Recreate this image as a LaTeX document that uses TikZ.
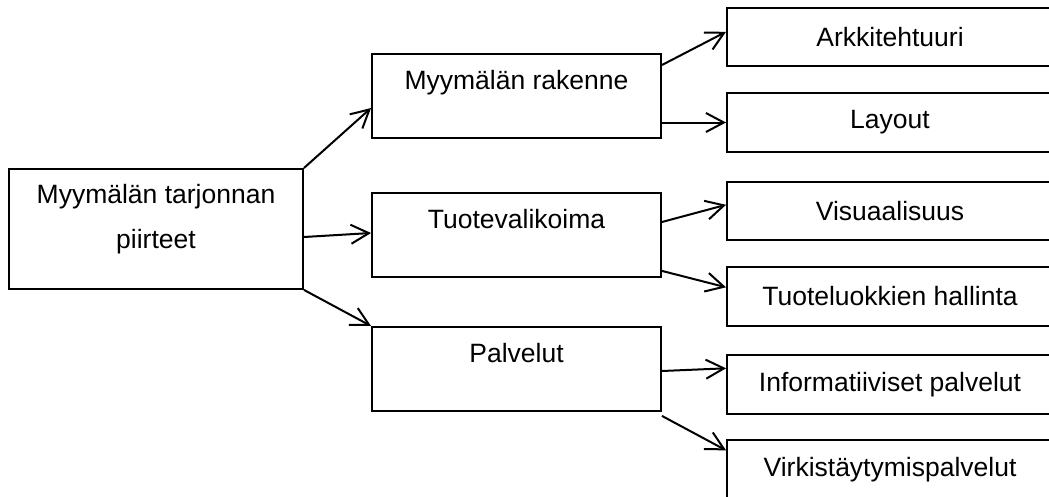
\documentclass[tikz,border=0pt]{standalone}
\usepackage{fontspec}
\setmainfont{Liberation Sans}
\usetikzlibrary{arrows.meta}

\begin{document}
\begin{tikzpicture}[x=1pt, y=-1pt,
    every node/.style={font=\fontsize{26.5}{45}\selectfont},
    box/.style={draw, line width=1.9pt, rectangle, inner xsep=0pt, inner ysep=0pt},
    rootbox/.style={box, minimum width=294pt, text height=35pt, text depth=85pt, anchor=north},
    midbox/.style={box, minimum width=289pt, text height=35.5pt, text depth=48.5pt, anchor=north},
    leafbox/.style={box, minimum width=326pt, minimum height=58.5pt},
    link/.style={line width=2pt, -{Straight Barb[length=18pt, width=19pt, line width=2pt]}}
  ]
  \clip (0,0) rectangle (1049,496);

  % root
  \node[rootbox] (root) at (156,168)
    {\begin{tabular}[t]{@{}c@{}}Myymälän tarjonnan\\piirteet\end{tabular}};

  % middle level
  \node[midbox] (rak) at (516.5,53)  {Myymälän rakenne};
  \node[midbox] (tuo) at (516.5,192) {Tuotevalikoima};
  \node[midbox] (pal) at (516.5,326) {Palvelut};

  % leaves
  \node[leafbox] (ark) at (890,37)    {Arkkitehtuuri};
  \node[leafbox] (lay) at (890,122.5) {Layout};
  \node[leafbox] (vis) at (890,211)   {Visuaalisuus};
  \node[leafbox] (tul) at (890,296.5) {Tuoteluokkien hallinta};
  \node[leafbox] (inf) at (890,384.5) {Informatiiviset palvelut};
  \node[leafbox] (vir) at (890,469.5) {Virkistäytymispalvelut};

  % root to middle level
  \draw[link] (root.north east) -- ([yshift=-55pt]rak.north west);
  \draw[link] ([yshift=-69pt]root.north east) -- ([yshift=-41pt]tuo.north west);
  \draw[link] (root.south east) -- (pal.north west);

  % middle level to leaves
  \draw[link] ([yshift=-12pt]rak.north east) -- ([yshift=-25pt]ark.north west);
  \draw[link] (rak.east |- lay.west) -- (lay.west);
  \draw[link] ([yshift=-30pt]tuo.north east) -- ([yshift=-24pt]vis.north west);
  \draw[link] ([yshift=7pt]tuo.south east) -- ([yshift=-21pt]tul.north west);
  \draw[link] ([yshift=-45pt]pal.north east) -- ([yshift=-14pt]inf.north west);
  \draw[link] ([yshift=-4pt]pal.south east) -- ([yshift=-11pt]vir.north west);
\end{tikzpicture}
\end{document}
